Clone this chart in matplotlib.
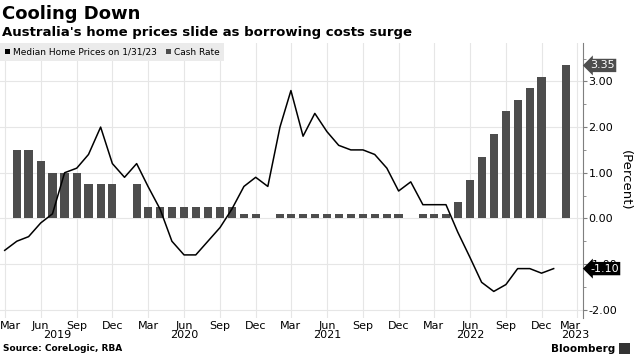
import numpy as np
import pandas as pd
import matplotlib
matplotlib.use("Agg")
import matplotlib.pyplot as plt
import matplotlib.dates as mdates
import matplotlib.transforms as mtransforms
from matplotlib.patches import Patch, Rectangle

# Median home prices, monthly % change (Mar 2019 - Jan 2023)
price_months = pd.date_range("2019-03-01", "2023-01-01", freq="MS")
price_change = [-0.7, -0.5, -0.4, -0.1, 0.1, 1.0, 1.1, 1.4, 2.0, 1.2, 0.9, 1.2,
                0.7, 0.2, -0.5, -0.8, -0.8, -0.5, -0.2, 0.2, 0.7, 0.9, 0.7, 2.0,
                2.8, 1.8, 2.3, 1.9, 1.6, 1.5, 1.5, 1.4, 1.1, 0.6, 0.8, 0.3,
                0.3, 0.3, -0.3, -0.85, -1.4, -1.6, -1.45, -1.1, -1.1, -1.2, -1.1]

# RBA cash rate at each meeting month (no January meetings)
cash_months = pd.to_datetime([
    "2019-04-01", "2019-05-01", "2019-06-01", "2019-07-01", "2019-08-01", "2019-09-01",
    "2019-10-01", "2019-11-01", "2019-12-01",
    "2020-02-01", "2020-03-01", "2020-04-01", "2020-05-01", "2020-06-01", "2020-07-01",
    "2020-08-01", "2020-09-01", "2020-10-01", "2020-11-01", "2020-12-01",
    "2021-02-01", "2021-03-01", "2021-04-01", "2021-05-01", "2021-06-01", "2021-07-01",
    "2021-08-01", "2021-09-01", "2021-10-01", "2021-11-01", "2021-12-01",
    "2022-02-01", "2022-03-01", "2022-04-01", "2022-05-01", "2022-06-01", "2022-07-01",
    "2022-08-01", "2022-09-01", "2022-10-01", "2022-11-01", "2022-12-01",
    "2023-02-01"])
cash_rate = [1.50, 1.50, 1.25, 1.00, 1.00, 1.00, 0.75, 0.75, 0.75,
             0.75, 0.25, 0.25, 0.25, 0.25, 0.25, 0.25, 0.25, 0.25, 0.10, 0.10,
             0.10, 0.10, 0.10, 0.10, 0.10, 0.10, 0.10, 0.10, 0.10, 0.10, 0.10,
             0.10, 0.10, 0.10, 0.35, 0.85, 1.35, 1.85, 2.35, 2.60, 2.85, 3.10,
             3.35]

year_labels = ["2019", "2020", "2021", "2022", "2023"]
year_pos = pd.to_datetime(["2019-07-13", "2020-06-01", "2021-06-01", "2022-06-01", "2023-02-24"])

bar_color = "#4d4d4d"

fig = plt.figure(figsize=(6.34, 3.56), dpi=100)
ax = fig.add_axes([0, 0.107, 0.9196, 0.772])

ax.bar(cash_months, cash_rate, width=21, color=bar_color, zorder=2)
ax.plot(price_months, price_change, color="black", lw=1.1, zorder=3)

ax.set_xlim(pd.Timestamp("2019-02-17"), pd.Timestamp("2023-03-17"))
ax.set_ylim(-2.18, 3.84)

# axes styling
for s in ["top", "left", "bottom"]:
    ax.spines[s].set_visible(False)
ax.spines["right"].set_color("#7f7f7f")
ax.yaxis.tick_right()
ax.set_yticks([-2, -1, 0, 1, 2, 3])
ax.set_yticks(np.arange(-2, 3.6, 0.5), minor=True)
ax.yaxis.set_major_formatter(matplotlib.ticker.FormatStrFormatter("%.2f"))
ax.tick_params(axis="y", which="major", length=3, color="#7f7f7f", labelsize=8, pad=1)
ax.tick_params(axis="y", which="minor", length=2, color="#7f7f7f")

ax.xaxis.set_major_locator(mdates.MonthLocator(bymonth=[3, 6, 9, 12]))
ax.xaxis.set_major_formatter(mdates.DateFormatter("%b"))
ax.tick_params(axis="x", length=0, labelsize=8, pad=2)

fig.canvas.draw()
xlabs = ax.get_xticklabels()
xlabs[0].set_transform(xlabs[0].get_transform() +
                       mtransforms.ScaledTranslation(6 / 100, 0, fig.dpi_scale_trans))
xlabs[-1].set_transform(xlabs[-1].get_transform() +
                        mtransforms.ScaledTranslation(-6 / 100, 0, fig.dpi_scale_trans))

for lbl, pos in zip(year_labels, year_pos):
    ax.text(pos, -0.062, lbl, transform=ax.get_xaxis_transform(),
            ha="center", va="center", fontsize=8)

ax.grid(True, color="#e6e6e6", lw=0.8, zorder=0)
ax.set_axisbelow(True)

# last value tags
ax.annotate(f"{cash_rate[-1]:.2f}", xy=(1, cash_rate[-1]), xycoords=("axes fraction", "data"),
            xytext=(5, 0), textcoords="offset points", ha="left", va="center",
            color="white", fontsize=8, annotation_clip=False, zorder=10,
            bbox=dict(boxstyle="larrow,pad=0.15", fc=bar_color, ec="none"))
ax.annotate(f"{price_change[-1]:.2f}", xy=(1, price_change[-1]), xycoords=("axes fraction", "data"),
            xytext=(5, 0), textcoords="offset points", ha="left", va="center",
            color="white", fontsize=8, annotation_clip=False, zorder=10,
            bbox=dict(boxstyle="larrow,pad=0.15", fc="black", ec="none"))

fig.text(0.986, 0.494, "(Percent)", rotation=-90, ha="center", va="center", fontsize=9.5)

# legend
handles = [Patch(fc="black"), Patch(fc=bar_color)]
leg = ax.legend(handles, ["Median Home Prices on 1/31/23", "Cash Rate"], loc="upper left",
                bbox_to_anchor=(0, 1), ncol=2, frameon=True, facecolor="#ebebeb",
                edgecolor="none", framealpha=1, fancybox=False, fontsize=6.5,
                handlelength=0.6, handleheight=0.6, handletextpad=0.3,
                columnspacing=1.0, borderaxespad=0, borderpad=0.5)

# titles and footer
fig.text(0.003, 0.962, "Cooling Down", fontsize=13, weight="bold", va="center")
fig.text(0.003, 0.908, "Australia's home prices slide as borrowing costs surge",
         fontsize=9.5, weight="bold", va="center")
fig.text(0.005, 0.02, "Source: CoreLogic, RBA", fontsize=6.5, weight="bold", va="center")
fig.text(0.97, 0.02, "Bloomberg", fontsize=7.5, weight="bold", va="center", ha="right")
fig.patches.append(Rectangle((0.977, 0.006), 0.016, 0.03, transform=fig.transFigure,
                             fc="#333333", ec="none"))

fig.savefig("out.png", dpi=100)
